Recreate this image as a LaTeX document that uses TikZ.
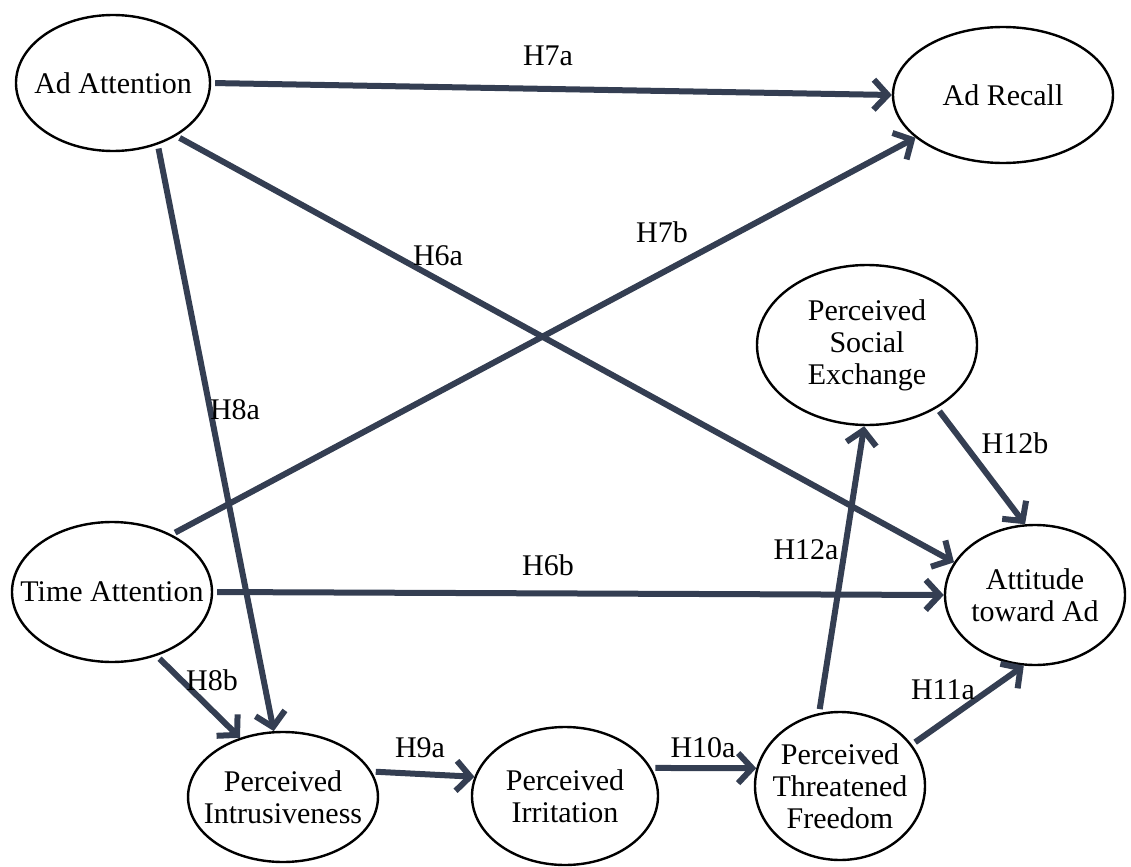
\documentclass[tikz,border=0pt]{standalone}
\usepackage{fontspec}
\setmainfont{Liberation Serif}
\usetikzlibrary{shapes.geometric,arrows.meta}

\definecolor{pathcol}{RGB}{52,62,82}

\tikzset{
  construct/.style={ellipse, draw=black, line width=1.2pt, inner sep=-6pt, align=center, font=\fontsize{15}{16}\selectfont},
  hyp/.style={draw=pathcol, line width=3pt, -{Straight Barb[length=7pt,width=15pt]}, shorten <=2pt},
  hlabel/.style={font=\fontsize{15}{16}\selectfont, inner sep=1pt},
}

\begin{document}
\begin{tikzpicture}[x=0.5pt, y=-0.5pt]
            \useasboundingbox (0,0) rectangle (1131,867);
            % constructs
            \node[construct, minimum width=97pt, minimum height=68pt] (adatt) at (113,83) {Ad Attention};
            \node[construct, minimum width=110pt, minimum height=68pt] (recall) at (1003,95) {Ad Recall};
            \node[construct, inner xsep=-30pt, minimum width=100pt, minimum height=70pt] (timeatt) at (112,592) {Time Attention};
            \node[construct, minimum width=93pt, minimum height=65pt] (intrus) at (283,797) {Perceived\\Intrusiveness};
            \node[construct, minimum width=93pt, minimum height=69pt] (irrit) at (565,796) {Perceived\\Irritation};
            \node[construct, minimum width=85pt, minimum height=74pt] (threat) at (840,786) {Perceived\\Threatened\\Freedom};
            \node[construct, minimum width=110pt, minimum height=80pt] (social) at (867,345) {Perceived\\Social\\Exchange};
            \node[construct, minimum width=90pt, minimum height=70pt] (attit) at (1035,595) {Attitude\\toward Ad};
            % paths
            \draw[hyp] (adatt.east) -- (recall.west);
            \draw[hyp] (timeatt.44) -- (recall.-154);
            \draw[hyp] (adatt.-40) -- (attit.158);
            \draw[hyp] (adatt.-54) -- (intrus.98);
            \draw[hyp] (timeatt.east) -- (attit.west);
            \draw[hyp] (timeatt.-55) -- (intrus.126);
            \draw[hyp] (intrus.16) -- (irrit.168);
            \draw[hyp] (irrit.18) -- (threat.168);
            \draw[hyp] (threat.30) -- (attit.-99);
            \draw[hyp] (threat.106) -- (social.-92);
            \draw[hyp] (social.-42) -- (attit.98);
            % labels
            \node[hlabel] (h7a) at (548,56) {H7a};
            \node[hlabel] (h7b) at (662,232) {H7b};
            \node[hlabel] (h6a) at (438,256) {H6a};
            \node[hlabel] (h8a) at (235,410) {H8a};
            \node[hlabel] (h6b) at (548,565) {H6b};
            \node[hlabel] (h8b) at (212,680) {H8b};
            \node[hlabel] (h9a) at (420,748) {H9a};
            \node[hlabel] (h10a) at (703,748) {H10a};
            \node[hlabel] (h11a) at (943,690) {H11a};
            \node[hlabel] (h12a) at (806,550) {H12a};
            \node[hlabel] (h12b) at (1015,443) {H12b};
\end{tikzpicture}
\end{document}
